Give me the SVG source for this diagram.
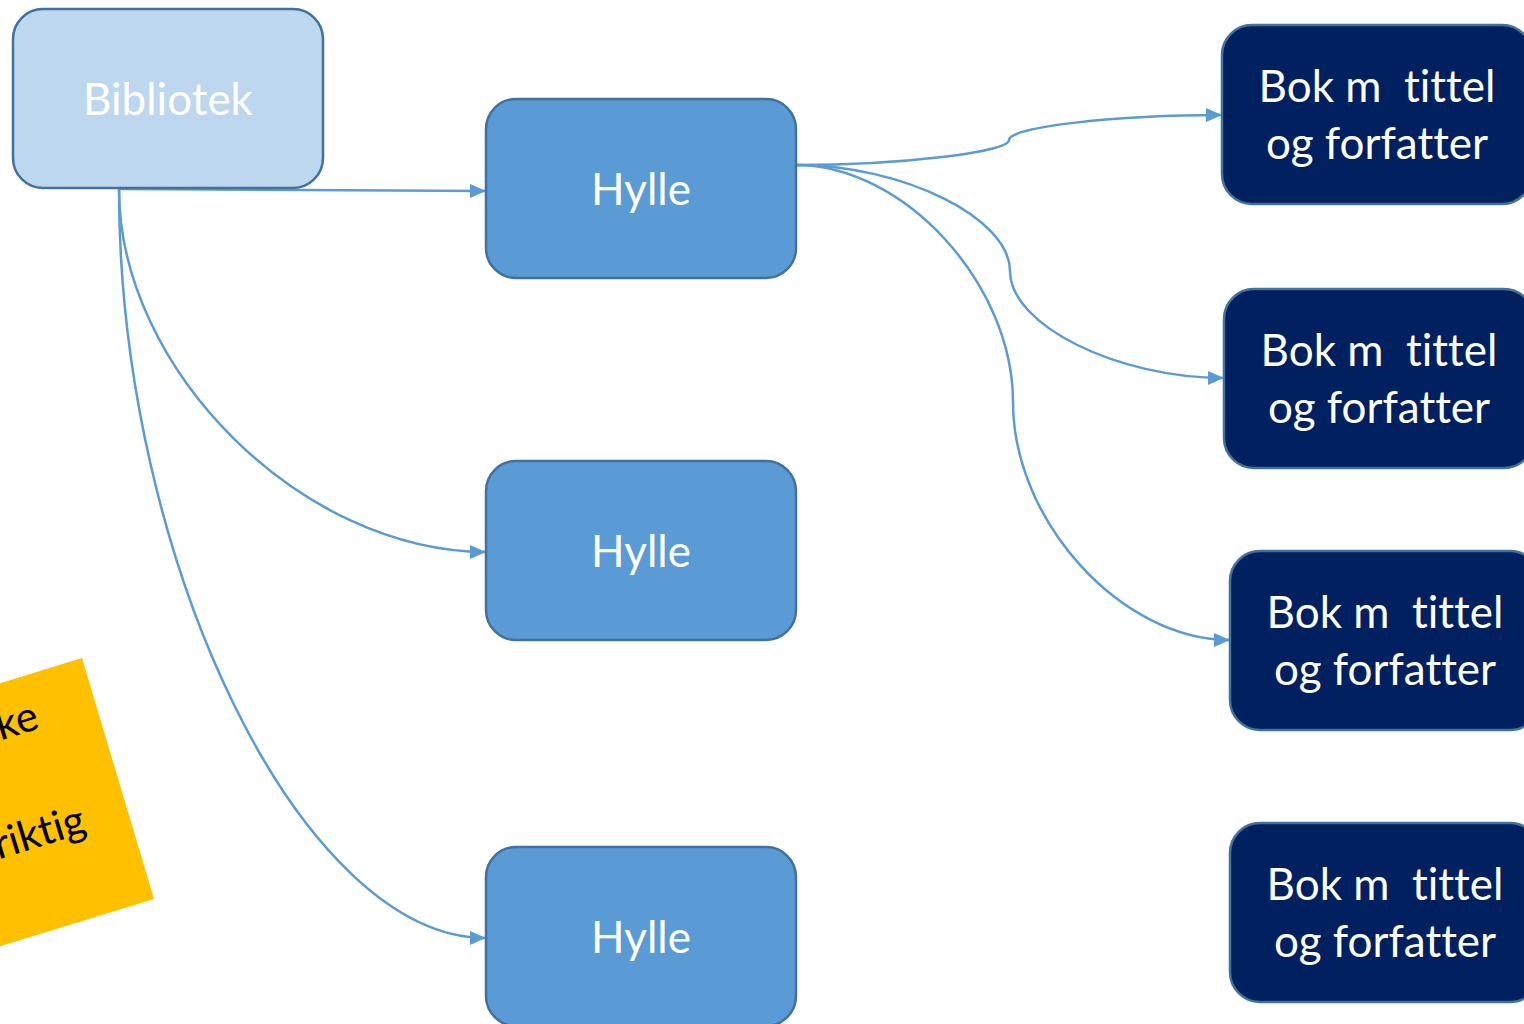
<svg xmlns="http://www.w3.org/2000/svg" width="1524" height="1024" viewBox="0 0 1524 1024">
  <style>
    .lib { fill: #BDD7EE; stroke: #41719C; stroke-width: 2.5; }
    .hylle { fill: #5B9BD5; stroke: #41719C; stroke-width: 2.5; }
    .bok { fill: #002060; stroke: #41719C; stroke-width: 2.5; }
    text { font-family: Lato, "Open Sans", "Liberation Sans", sans-serif; font-variant-ligatures: none; }
    .lbl { font-size: 44px; fill: #FFFFFF; text-anchor: middle; white-space: pre; }
    .note { font-size: 42px; fill: #000000; text-anchor: end; }
    .conn { fill: none; stroke: #5B9BD5; stroke-width: 2.5; marker-end: url(#arrow); }
  </style>
  <defs>
    <marker id="arrow" markerUnits="userSpaceOnUse" markerWidth="16" markerHeight="14" refX="16" refY="7" orient="auto">
      <path d="M0,0 L16,7 L0,14 z" fill="#5B9BD5"/>
    </marker>
  </defs>
  <rect width="1524" height="1024" fill="#FFFFFF"/>

  <!-- sticky note, rotated, mostly off the left edge -->
  <g id="note">
    <polygon points="82,658 154,899 -133,987 -205,746" fill="#FFC000"/>
    <text class="note" transform="translate(41,728) rotate(-17)">ke</text>
    <text class="note" transform="translate(88,832) rotate(-17)">riktig</text>
  </g>

  <g id="connectors">
    <path class="conn" d="M119,189 L486,191"/>
    <path class="conn" d="M119,189 C119,370 302,552 486,552"/>
    <path class="conn" d="M119,189 C119,563 302,938 486,938"/>
    <path class="conn" d="M796,165 C902,165 1009,152 1009,140 C1009,127 1115,115 1222,115"/>
    <path class="conn" d="M796,165 C903,165 1010,218 1010,271 C1010,325 1117,378 1224,378"/>
    <path class="conn" d="M796,165 C904,165 1013,284 1013,402 C1013,521 1121,640 1230,640"/>
  </g>

  <g id="bibliotek">
    <rect class="lib" x="13" y="9" width="310" height="179" rx="30"/>
    <text class="lbl" x="168" y="115">Bibliotek</text>
  </g>

  <g id="hylle1">
    <rect class="hylle" x="486" y="99" width="310" height="179" rx="30"/>
    <text class="lbl" x="641" y="205">Hylle</text>
  </g>
  <g id="hylle2">
    <rect class="hylle" x="486" y="461" width="310" height="179" rx="30"/>
    <text class="lbl" x="641" y="567">Hylle</text>
  </g>
  <g id="hylle3">
    <rect class="hylle" x="486" y="847" width="310" height="179" rx="30"/>
    <text class="lbl" x="641" y="953">Hylle</text>
  </g>

  <g id="bok1">
    <rect class="bok" x="1222" y="25" width="310" height="179" rx="30"/>
    <text class="lbl" x="1377" y="102">Bok m  tittel</text>
    <text class="lbl" x="1377" y="159">og forfatter</text>
  </g>
  <g id="bok2">
    <rect class="bok" x="1224" y="289" width="310" height="179" rx="30"/>
    <text class="lbl" x="1379" y="366">Bok m  tittel</text>
    <text class="lbl" x="1379" y="423">og forfatter</text>
  </g>
  <g id="bok3">
    <rect class="bok" x="1230" y="551" width="310" height="179" rx="30"/>
    <text class="lbl" x="1385" y="628">Bok m  tittel</text>
    <text class="lbl" x="1385" y="685">og forfatter</text>
  </g>
  <g id="bok4">
    <rect class="bok" x="1230" y="823" width="310" height="179" rx="30"/>
    <text class="lbl" x="1385" y="900">Bok m  tittel</text>
    <text class="lbl" x="1385" y="957">og forfatter</text>
  </g>
</svg>
